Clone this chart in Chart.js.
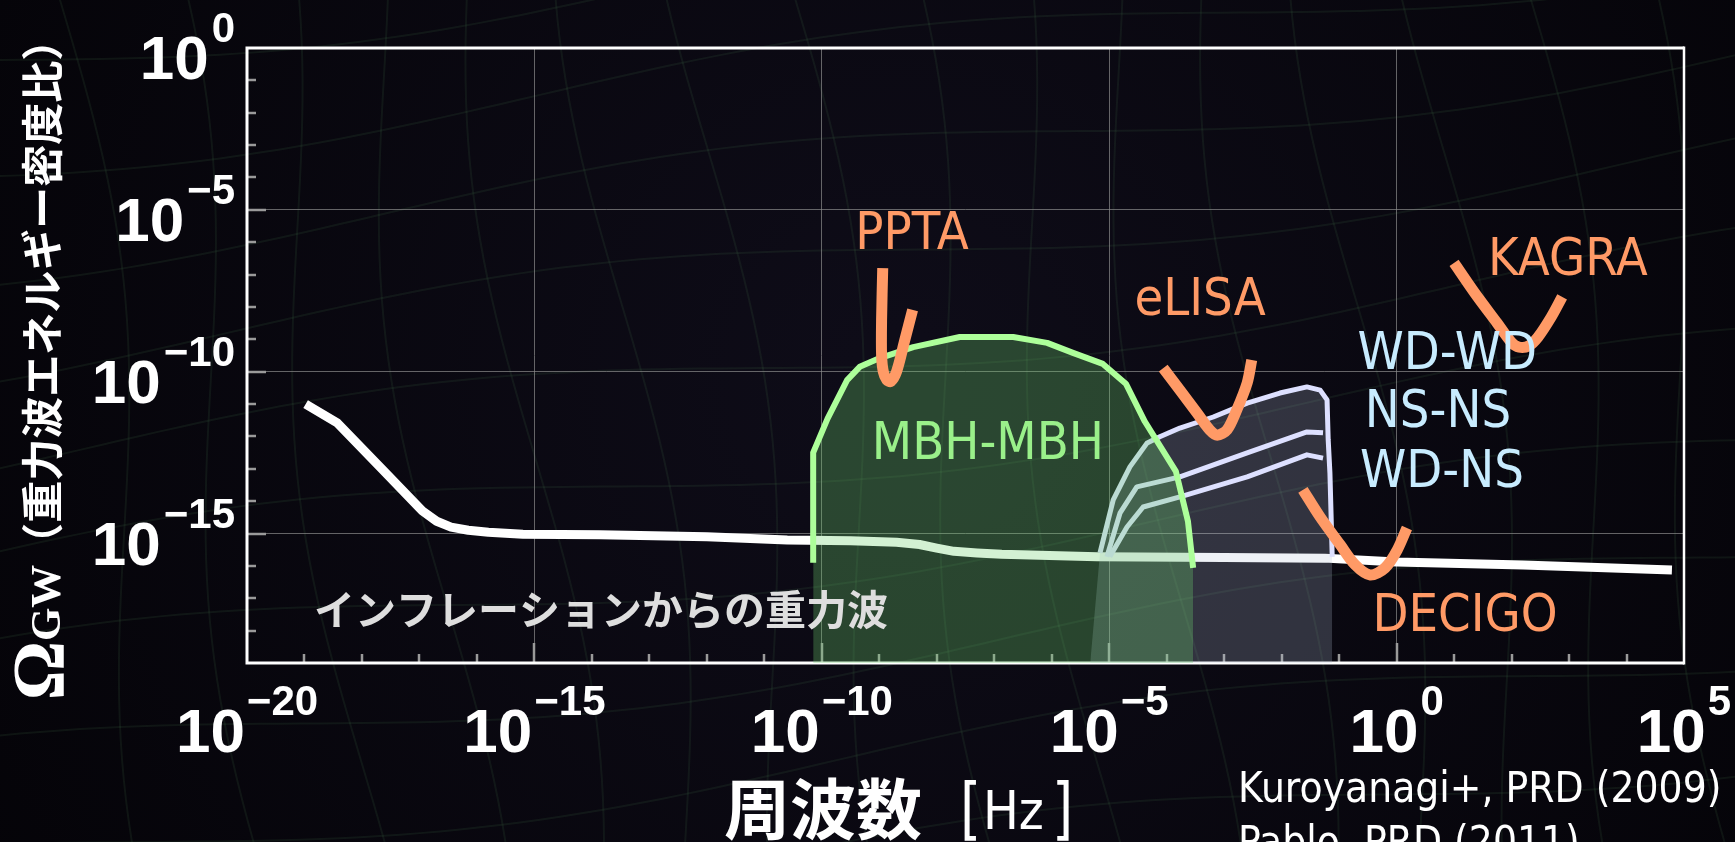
<!DOCTYPE html>
<html><head><meta charset="utf-8">
<script src="https://cdn.jsdelivr.net/npm/chart.js@4.4.1/dist/chart.umd.min.js"></script>
<style>
html,body{margin:0;padding:0;background:#06050b;overflow:hidden}
#wrap{position:relative;width:1735px;height:842px}
</style></head>
<body><div id="wrap"><canvas id="c"></canvas></div>
<script>
// ---------- data: log10 values ----------
const xTickExps = [-20, -15, -10, -5, 0, 5];
const yTickExps = [0, -5, -10, -15];

const inflationLogF     = [-18.98, -18.43, -17.6, -16.95, -16.7, -16.45, -16.15, -15.8, -15.2, -13.86, -12.0, -10.6, -9.5, -8.7, -8.3, -8.0, -7.7, -7.3, -6.87, -5.21, -3.0, -1.25, 0.0, 2.2, 4.79];
const inflationLogOmega = [-11.0, -11.58, -13.1, -14.3, -14.62, -14.8, -14.9, -14.96, -15.02, -15.04, -15.1, -15.2, -15.22, -15.27, -15.34, -15.45, -15.55, -15.6, -15.64, -15.72, -15.74, -15.76, -15.88, -15.97, -16.13];

const mbhLogF     = [-10.15, -10.15, -9.9, -9.56, -9.34, -8.99, -8.41, -7.6, -6.67, -6.08, -5.63, -5.11, -4.71, -4.38, -3.84, -3.63, -3.54];
const mbhLogOmega = [-15.9, -12.5, -11.45, -10.26, -9.85, -9.58, -9.24, -8.93, -8.93, -9.11, -9.42, -9.76, -10.37, -11.54, -13.08, -14.62, -16.06];

const wdwdLogF     = [-5.33, -5.16, -4.93, -4.64, -4.34, -4.12, -3.77, -3.19, -2.60, -2.03, -1.56, -1.33, -1.21, -1.19, -1.16, -1.12];
const wdwdLogOmega = [-19, -15.60, -13.96, -12.94, -12.20, -12.01, -11.74, -11.40, -10.97, -10.66, -10.47, -10.57, -10.87, -12.11, -13.13, -15.72];

const nsnsLogF     = [-5.04, -4.81, -4.52, -3.77, -2.60, -1.56, -1.28];
const nsnsLogOmega = [-15.72, -14.36, -13.56, -13.25, -12.51, -11.86, -11.89];

const wdnsLogF     = [-4.99, -4.69, -4.41, -3.77, -2.60, -1.56, -1.28];
const wdnsLogOmega = [-15.72, -14.80, -14.18, -13.87, -13.25, -12.57, -12.67];

const pptaLogF     = [-8.94, -8.96, -8.96, -8.93, -8.87, -8.80, -8.70, -8.56, -8.42];
const pptaLogOmega = [-6.80, -8.40, -9.48, -10.0, -10.25, -10.3, -10.0, -9.05, -8.09];

const elisaLogF     = [-4.06, -3.77, -3.47, -3.25, -3.12, -2.95, -2.78, -2.60, -2.52];
const elisaLogOmega = [-9.89, -10.57, -11.28, -11.80, -11.96, -11.80, -11.18, -10.35, -9.64];

const kagraLogF     = [1.00, 1.36, 1.75, 2.0, 2.13, 2.3, 2.46, 2.69, 2.88];
const kagraLogOmega = [-6.64, -7.57, -8.50, -9.1, -9.24, -9.2, -8.93, -8.31, -7.69];

const decigoLogF     = [-1.63, -1.33, -0.98, -0.72, -0.46, -0.20, 0.01, 0.18];
const decigoLogOmega = [-13.65, -14.49, -15.35, -15.97, -16.28, -16.06, -15.51, -14.83];

const labelTexts = ['PPTA', 'eLISA', 'KAGRA', 'DECIGO', 'MBH-MBH', 'WD-WD', 'NS-NS', 'WD-NS', 'インフレーションからの重力波'];
const labelLogF     = [-8.43, -3.42, 2.98, 1.19, -7.11, 0.88, 0.72, 0.79, -13.84];
const labelLogOmega = [-5.62, -7.66, -6.43, -17.42, -12.11, -9.33, -11.12, -12.97, -17.36];
const citationLines = ['Kuroyanagi+, PRD (2009)', 'Pablo, PRD (2011)'];

// ---------- styling ----------
const ORANGE = '#ff9a66';
const GREEN_LINE = '#adff9a';
const GREEN_FILL = 'rgba(110,210,110,0.30)';
const LAV_LINE = '#dde0ff';
const LAV_FILL = 'rgba(180,195,215,0.23)';
const labelColors = [ORANGE, ORANGE, ORANGE, ORANGE, '#9af08a', '#c8ecff', '#c8ecff', '#c8ecff', '#dedede'];

const pts = (lf, lo) => lf.map((f, i) => ({ x: Math.pow(10, f), y: Math.pow(10, lo[i]) }));
const lineDs = (data, color, width, order, extra) => Object.assign({
  data, borderColor: color, borderWidth: width, pointRadius: 0, fill: false,
  tension: 0, order, borderCapStyle: 'butt', borderJoinStyle: 'round'
}, extra || {});

const datasets = [
  lineDs(pts(inflationLogF, inflationLogOmega), '#ffffff', 9, 10),
  lineDs(pts(wdwdLogF, wdwdLogOmega), LAV_LINE, 5, 9, {
    fill: 'start', backgroundColor: LAV_FILL,
    segment: { borderColor: c => c.p0DataIndex === 0 ? 'rgba(0,0,0,0)' : undefined }
  }),
  lineDs(pts(nsnsLogF, nsnsLogOmega), LAV_LINE, 5, 8),
  lineDs(pts(wdnsLogF, wdnsLogOmega), LAV_LINE, 5, 7),
  lineDs(pts(mbhLogF, mbhLogOmega), GREEN_LINE, 6, 6, { fill: 'start', backgroundColor: GREEN_FILL }),
  lineDs(pts(pptaLogF, pptaLogOmega), ORANGE, 11, 4, { tension: 0.3 }),
  lineDs(pts(elisaLogF, elisaLogOmega), ORANGE, 11, 3, { tension: 0.3 }),
  lineDs(pts(kagraLogF, kagraLogOmega), ORANGE, 11, 2, { tension: 0.3 }),
  lineDs(pts(decigoLogF, decigoLogOmega), ORANGE, 11, 1, { tension: 0.3 })
];

const range = (a, b) => { const r = []; for (let i = a; i <= b; i++) r.push(i); return r; };
const GRID = 'rgba(140,140,140,0.7)';
const gridColor = (lo, hi) => c => {
  if (!c.tick) return 'rgba(0,0,0,0)';
  const e = Math.round(Math.log10(c.tick.value));
  return (e % 5 === 0 && e > lo && e < hi) ? GRID : 'rgba(0,0,0,0)';
};

function drawText(ctx, text, x, y, font, color, align, hs) {
  ctx.save();
  ctx.font = font; ctx.fillStyle = color; ctx.textBaseline = 'alphabetic'; ctx.textAlign = 'left';
  const w = ctx.measureText(text).width * hs;
  const x0 = align === 'center' ? x - w / 2 : align === 'right' ? x - w : x;
  ctx.translate(x0, y); ctx.scale(hs, 1);
  ctx.fillText(text, 0, 0);
  ctx.restore();
  return w;
}

const decor = {
  id: 'decor',
  beforeDraw(chart) {
    const ctx = chart.ctx, W = chart.width, H = chart.height;
    ctx.save();
    const g = ctx.createRadialGradient(900, 380, 50, 900, 380, 1100);
    g.addColorStop(0, '#0e0c18'); g.addColorStop(1, '#040307');
    ctx.fillStyle = g; ctx.fillRect(0, 0, W, H);
    ctx.strokeStyle = 'rgba(70,120,80,0.14)'; ctx.lineWidth = 2;
    for (let i = 0; i < 18; i++) {
      ctx.beginPath();
      for (let y = -20; y <= H + 20; y += 20) {
        const x = 60 + i * 105 + 30 * Math.sin(y / 170 + i * 0.9) + y * 0.12;
        if (y === -20) ctx.moveTo(x, y); else ctx.lineTo(x, y);
      }
      ctx.stroke();
    }
    for (let j = 0; j < 10; j++) {
      ctx.beginPath();
      for (let x = -20; x <= W + 20; x += 20) {
        const y = 60 + j * 100 + 25 * Math.sin(x / 220 + j * 0.7) - x * 0.12;
        if (x === -20) ctx.moveTo(x, y); else ctx.lineTo(x, y);
      }
      ctx.stroke();
    }
    ctx.restore();
  },
  beforeDatasetsDraw(chart) {
    const ctx = chart.ctx, a = chart.chartArea, xs = chart.scales.x, ys = chart.scales.y;
    ctx.save();
    ctx.strokeStyle = '#9a9a9a'; ctx.lineWidth = 2.5;
    range(-19, 4).forEach(e => {
      const px = Math.round(xs.getPixelForValue(Math.pow(10, e)));
      const len = e % 5 === 0 ? 20 : 9;
      ctx.beginPath(); ctx.moveTo(px, a.bottom); ctx.lineTo(px, a.bottom - len); ctx.stroke();
    });
    range(-18, -1).forEach(e => {
      const py = Math.round(ys.getPixelForValue(Math.pow(10, e)));
      const len = e % 5 === 0 ? 19 : 9;
      ctx.beginPath(); ctx.moveTo(a.left, py); ctx.lineTo(a.left + len, py); ctx.stroke();
    });
    ctx.strokeStyle = '#ffffff'; ctx.lineWidth = 3;
    ctx.beginPath();
    ctx.moveTo(a.right, a.top); ctx.lineTo(a.left, a.top); ctx.lineTo(a.left, a.bottom); ctx.lineTo(a.right, a.bottom);
    ctx.stroke();
    ctx.lineWidth = 2.5;
    ctx.beginPath(); ctx.moveTo(a.right, a.top - 1.5); ctx.lineTo(a.right, a.bottom + 1.5); ctx.stroke();
    ctx.restore();
  },
  afterDraw(chart) {
    const ctx = chart.ctx, a = chart.chartArea, xs = chart.scales.x, ys = chart.scales.y;
    const baseFont = 'bold 62px "Liberation Sans", Arial, sans-serif';
    const supFont = 'bold 42px "Liberation Sans", Arial, sans-serif';
    const supText = e => (e < 0 ? '\u2212' + (-e) : String(e));
    ctx.save();
    // x tick labels
    xTickExps.forEach(e => {
      const px = xs.getPixelForValue(Math.pow(10, e));
      ctx.font = baseFont; const w1 = ctx.measureText('10').width;
      ctx.font = supFont; const w2 = ctx.measureText(supText(e)).width;
      const start = px - (w1 + 2 + w2) / 2;
      drawText(ctx, '10', start, a.bottom + 89, baseFont, '#ffffff', 'left', 1);
      drawText(ctx, supText(e), start + w1 + 2, a.bottom + 52, supFont, '#ffffff', 'left', 1);
    });
    // y tick labels
    yTickExps.forEach(e => {
      const py = ys.getPixelForValue(Math.pow(10, e));
      const right = a.left - 12;
      const w2 = drawText(ctx, supText(e), right, py - 6, supFont, '#ffffff', 'right', 1);
      drawText(ctx, '10', right - w2 - 3, py + 31, baseFont, '#ffffff', 'right', 1);
    });
    // x axis title
    drawText(ctx, '周波数', 724, 834, 'bold 66px "Noto Sans CJK JP", sans-serif', '#ffffff', 'left', 1);
    drawText(ctx, '[', 960, 832, '68px "DejaVu Sans", sans-serif', '#ffffff', 'left', 0.8);
    drawText(ctx, 'Hz', 983, 829, '53px "DejaVu Sans", sans-serif', '#ffffff', 'left', 0.9);
    drawText(ctx, ']', 1052, 832, '68px "DejaVu Sans", sans-serif', '#ffffff', 'left', 0.8);
    // y axis title (rotated)
    ctx.save();
    ctx.translate(62, (a.top + a.bottom) / 2 + 4);
    ctx.rotate(-Math.PI / 2);
    const fO = 'bold 74px "Liberation Serif", "DejaVu Serif", serif';
    const fG = 'bold 43px "Liberation Serif", "DejaVu Serif", serif';
    const fJ = 'bold 42px "Noto Sans CJK JP", sans-serif';
    const jp = '（重力波エネルギー密度比）';
    ctx.font = fO; const wO = ctx.measureText('Ω').width;
    ctx.font = fG; const wG = ctx.measureText('GW').width;
    ctx.font = fJ; const wJ = ctx.measureText(jp).width;
    let x0 = -(wO + wG + wJ) / 2;
    drawText(ctx, 'Ω', x0, 2, fO, '#ffffff', 'left', 1); x0 += wO;
    drawText(ctx, 'GW', x0, -2, fG, '#ffffff', 'left', 1); x0 += wG;
    drawText(ctx, jp, x0, -4, fJ, '#ffffff', 'left', 1);
    ctx.restore();
    // annotations
    labelTexts.forEach((t, i) => {
      const px = xs.getPixelForValue(Math.pow(10, labelLogF[i]));
      const py = ys.getPixelForValue(Math.pow(10, labelLogOmega[i]));
      if (i === labelTexts.length - 1) {
        drawText(ctx, t, px, py + 15, 'bold 41px "Noto Sans CJK JP", sans-serif', labelColors[i], 'center', 1);
      } else {
        drawText(ctx, t, px, py + 19, '52px "DejaVu Sans", sans-serif', labelColors[i], 'center', 0.9);
      }
    });
    // citations
    citationLines.forEach((t, i) => {
      drawText(ctx, t, 1238, 802 + i * 54, '42px "DejaVu Sans", sans-serif', '#ffffff', 'left', 0.9);
    });
    ctx.restore();
  }
};

new Chart(document.getElementById('c'), {
  type: 'line',
  data: { datasets },
  options: {
    responsive: true, maintainAspectRatio: false, devicePixelRatio: 1, animation: false,
    layout: { padding: { left: 247, top: 48, right: 51, bottom: 179 } },
    plugins: { legend: { display: false }, tooltip: { enabled: false } },
    scales: {
      x: {
        type: 'logarithmic', position: 'bottom', min: 1e-20, max: 1e5,
        afterBuildTicks: s => { s.ticks = range(-20, 5).map(e => ({ value: Math.pow(10, e) })); },
        ticks: { display: false },
        grid: { color: gridColor(-20, 5), lineWidth: 1, drawTicks: false },
        border: { display: false }
      },
      y: {
        type: 'logarithmic', position: 'left', min: 1e-19, max: 1,
        afterBuildTicks: s => { s.ticks = range(-19, 0).map(e => ({ value: Math.pow(10, e) })); },
        ticks: { display: false },
        grid: { color: gridColor(-19, 0), lineWidth: 1, drawTicks: false },
        border: { display: false }
      }
    }
  },
  plugins: [decor]
});
</script>
</body></html>
